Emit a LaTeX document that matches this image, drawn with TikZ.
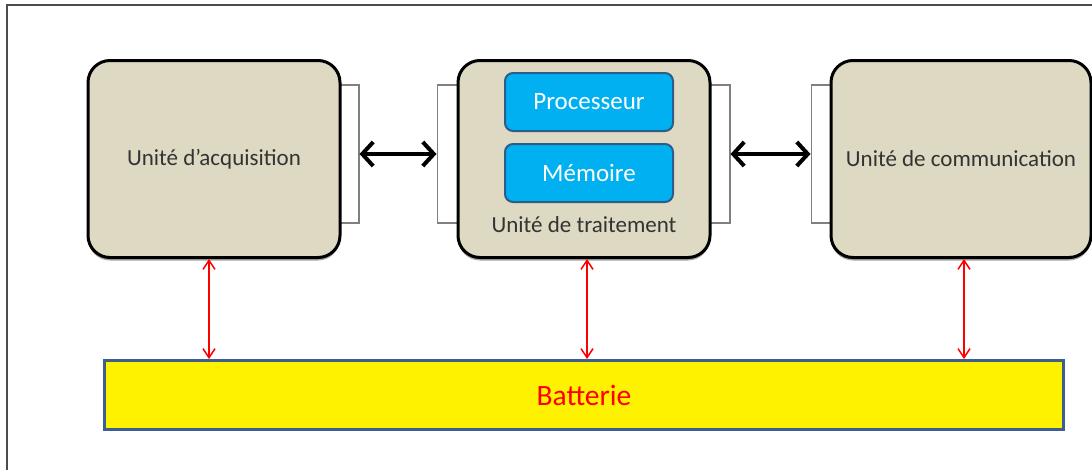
\documentclass[tikz,border=0pt]{standalone}
\usepackage{fontspec}
\setmainfont{Carlito}
\usetikzlibrary{
        arrows.meta,
        backgrounds,
        positioning,
        shadows
    }
\definecolor{unitfill}{HTML}{DDD9C3}
\definecolor{cpufill}{HTML}{00B0F0}
\definecolor{cpuline}{HTML}{2E5C8A}
\definecolor{batline}{HTML}{3C5F8F}
\tikzset{
    unit/.style={draw,line width=3pt,rounded corners=22pt,fill=unitfill,
        minimum height=197pt,text=black!80,font=\fontsize{23}{27}\selectfont,
        drop shadow={shadow xshift=0pt,shadow yshift=-3pt,opacity=0.7}},
    cpu/.style={draw=cpuline,line width=2pt,rounded corners=8pt,fill=cpufill,
        minimum width=168pt,minimum height=58pt,text=white,
        font=\fontsize{25}{29}\selectfont},
    port/.style={draw=gray,line width=1.5pt,fill=white,
        minimum width=40pt,minimum height=138pt},
    batbox/.style={draw=batline,line width=3pt,fill=yellow,
        minimum width=959pt,minimum height=69pt,text=red,
        font=\fontsize{29.5}{33}\selectfont},
    bus/.style={<->,line width=4pt,>={Straight Barb[length=11pt,width=24pt]}},
    pwr/.style={<->,red,line width=1.5pt,>={Straight Barb[length=9pt,width=12pt]}}
}

\begin{document}
\begin{tikzpicture}[x=1pt,y=-1pt]
        \useasboundingbox (0,0) rectangle (1092,469);
        \draw[line width=2pt,black!70] (7,480) -- (7,5) -- (1100,5);
        % units
        \node[unit,minimum width=252pt] (acq) at (214,159) {Unité d’acquisition};
        \node[unit,minimum width=252pt,right=115pt of acq,
            label={[anchor=center,yshift=34pt,text=black!80,
            font=\fontsize{23}{27}\selectfont]south:Unité de traitement}] (trt) {};
        \node[unit,minimum width=260pt,right=118pt of trt] (com) {Unité de communication};
        \node[cpu,below=13pt of trt.north,xshift=5pt] (proc) {Processeur};
        \node[cpu,below=11pt of proc] (mem) {Mémoire};
        \node[batbox,below=100pt of trt] (bat) {Batterie};
        % ports
        \begin{scope}[on background layer]
        	\node[port,anchor=east] (acqP) at ([xshift=18pt,yshift=5pt]acq.east) {};
        	\node[port,anchor=west] (trtL) at ([xshift=-20pt,yshift=5pt]trt.west) {};
        	\node[port,anchor=east] (trtR) at ([xshift=19pt,yshift=5pt]trt.east) {};
        	\node[port,anchor=west] (comL) at ([xshift=-19pt,yshift=5pt]com.west) {};
        \end{scope}
        \draw[bus] (acqP.east) -- (trtL.west);
        \draw[bus] (trtR.east) -- (comL.west);
        % power
        \draw[pwr] ([xshift=-5pt]acq.south) -- ([xshift=-5pt]acq.south |- bat.north);
        \draw[pwr] ([xshift=3pt]trt.south) -- ([xshift=3pt]trt.south |- bat.north);
        \draw[pwr] ([xshift=3pt]com.south) -- ([xshift=3pt]com.south |- bat.north);
\end{tikzpicture}
\end{document}
